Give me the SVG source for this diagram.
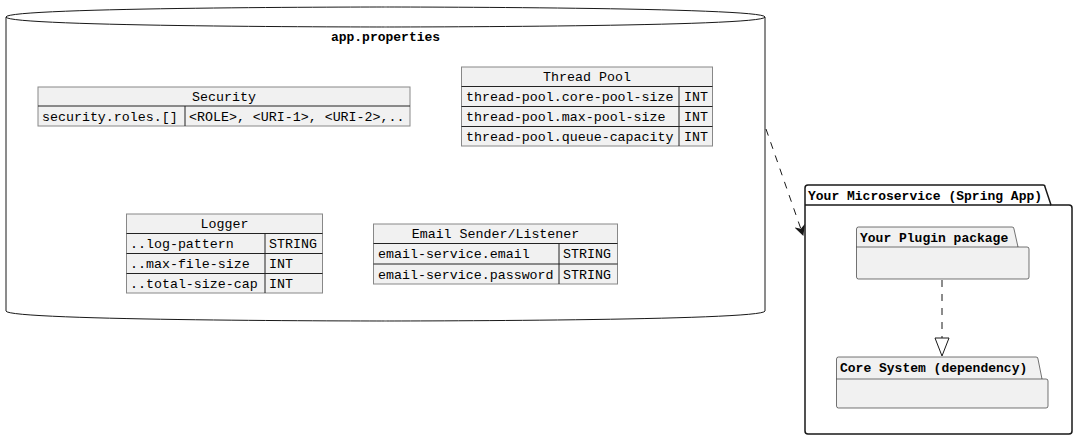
<svg xmlns="http://www.w3.org/2000/svg" width="1078" height="439" viewBox="0 0 1078 439">
<style>
text{font-family:"Liberation Mono","DejaVu Sans Mono",monospace;font-size:13.3px;fill:#000}
.b{font-weight:bold;font-size:13px}
.c{text-anchor:middle}
.hdr{fill:#F1F1F1;stroke:#888;stroke-width:1}
.ln{stroke:#222;stroke-width:1}
.pkg{fill:#F1F1F1;stroke:#181818;stroke-width:0.6}
</style>
<defs>
<marker id="arr" viewBox="0 0 10 10" refX="9" refY="5" markerWidth="11" markerHeight="11" orient="auto" markerUnits="userSpaceOnUse">
<path d="M0,0 L10,5 L0,10 L3,5 Z" fill="#181818"/>
</marker>
</defs>
<g id="app-properties">
<path d="M6,17 C6,7 385.5,7 385.5,7 C385.5,7 765,7 765,17 L765,311 C765,321 385.5,321 385.5,321 C385.5,321 6,321 6,311 Z" fill="#fff" stroke="#181818" stroke-width="1"/>
<path d="M6,17 C6,27 385.5,27 385.5,27 C385.5,27 765,27 765,17" fill="none" stroke="#181818" stroke-width="1"/>
<text class="b c" x="385.5" y="41">app.properties</text>
</g>
<g id="security">
<rect class="hdr" x="38" y="87" width="372" height="39"/>
<line class="ln" x1="38" y1="106" x2="410" y2="106"/>
<line class="ln" x1="185" y1="106" x2="185" y2="126"/>
<text class="c" x="224" y="101">Security</text>
<text x="42" y="121">security.roles.[]</text>
<text x="189" y="121">&lt;ROLE&gt;, &lt;URI-1&gt;, &lt;URI-2&gt;,..</text>
</g>
<g id="thread-pool">
<rect class="hdr" x="461.5" y="67" width="251" height="79"/>
<line class="ln" x1="461.5" y1="86.5" x2="712.5" y2="86.5"/>
<line class="ln" x1="461.5" y1="106.5" x2="712.5" y2="106.5"/>
<line class="ln" x1="461.5" y1="126.5" x2="712.5" y2="126.5"/>
<line class="ln" x1="679" y1="86.5" x2="679" y2="146"/>
<text class="c" x="587" y="81">Thread Pool</text>
<text x="466" y="101">thread-pool.core-pool-size</text>
<text x="684" y="101">INT</text>
<text x="466" y="121">thread-pool.max-pool-size</text>
<text x="684" y="121">INT</text>
<text x="466" y="141">thread-pool.queue-capacity</text>
<text x="684" y="141">INT</text>
</g>
<g id="logger">
<rect class="hdr" x="126.5" y="214" width="196" height="79"/>
<line class="ln" x1="126.5" y1="233.5" x2="322.5" y2="233.5"/>
<line class="ln" x1="126.5" y1="253.5" x2="322.5" y2="253.5"/>
<line class="ln" x1="126.5" y1="273.5" x2="322.5" y2="273.5"/>
<line class="ln" x1="265" y1="233.5" x2="265" y2="293"/>
<text class="c" x="224.5" y="228">Logger</text>
<text x="130" y="248">..log-pattern</text>
<text x="269" y="248">STRING</text>
<text x="130" y="268">..max-file-size</text>
<text x="269" y="268">INT</text>
<text x="130" y="288">..total-size-cap</text>
<text x="269" y="288">INT</text>
</g>
<g id="email">
<rect class="hdr" x="373.5" y="224" width="244" height="60"/>
<line class="ln" x1="373.5" y1="243.5" x2="617.5" y2="243.5"/>
<line class="ln" x1="373.5" y1="264" x2="617.5" y2="264"/>
<line class="ln" x1="559" y1="243.5" x2="559" y2="284"/>
<text class="c" x="495.5" y="238">Email Sender/Listener</text>
<text x="378" y="258">email-service.email</text>
<text x="563" y="258">STRING</text>
<text x="378" y="279">email-service.password</text>
<text x="563" y="279">STRING</text>
</g>
<g id="microservice">
<path d="M808,185 L1043,185 A2,2 0 0 1 1045,187 L1051,205 L1069,205 A3,3 0 0 1 1072,208 L1072,431 A3,3 0 0 1 1069,434 L808,434 A3,3 0 0 1 805,431 L805,188 A3,3 0 0 1 808,185 Z" fill="#fff" stroke="#181818" stroke-width="1.5"/>
<line x1="805" y1="205" x2="1051" y2="205" stroke="#181818" stroke-width="1.5"/>
<text class="b" x="808" y="200">Your Microservice (Spring App)</text>
</g>
<g id="plugin">
<path d="M858.5,227 L1012,227 A2,2 0 0 1 1014,229 L1018,247 L1027,247 A2,2 0 0 1 1029,249 L1029,277 A2,2 0 0 1 1027,279 L858.5,279 A2,2 0 0 1 856.5,277 L856.5,229 A2,2 0 0 1 858.5,227 Z" class="pkg"/>
<line x1="856.5" y1="247" x2="1018" y2="247" stroke="#181818" stroke-width="0.6"/>
<text class="b" x="860" y="242">Your Plugin package</text>
</g>
<g id="core">
<path d="M838.5,357 L1036,357 A2,2 0 0 1 1038,359 L1042,379 L1046,379 A2,2 0 0 1 1048,381 L1048,406 A2,2 0 0 1 1046,408 L838.5,408 A2,2 0 0 1 836.5,406 L836.5,359 A2,2 0 0 1 838.5,357 Z" class="pkg"/>
<line x1="836.5" y1="379" x2="1042" y2="379" stroke="#181818" stroke-width="0.6"/>
<text class="b" x="840" y="372">Core System (dependency)</text>
</g>
<g id="connectors" fill="none" stroke="#181818" stroke-width="1" stroke-dasharray="7,7">
<line x1="766" y1="129" x2="803" y2="235" marker-end="url(#arr)"/>
<line x1="942" y1="280" x2="942" y2="338"/>
<path d="M942,356 L935,338 L949,338 Z" fill="#fff" stroke-dasharray="none"/>
</g>
</svg>
